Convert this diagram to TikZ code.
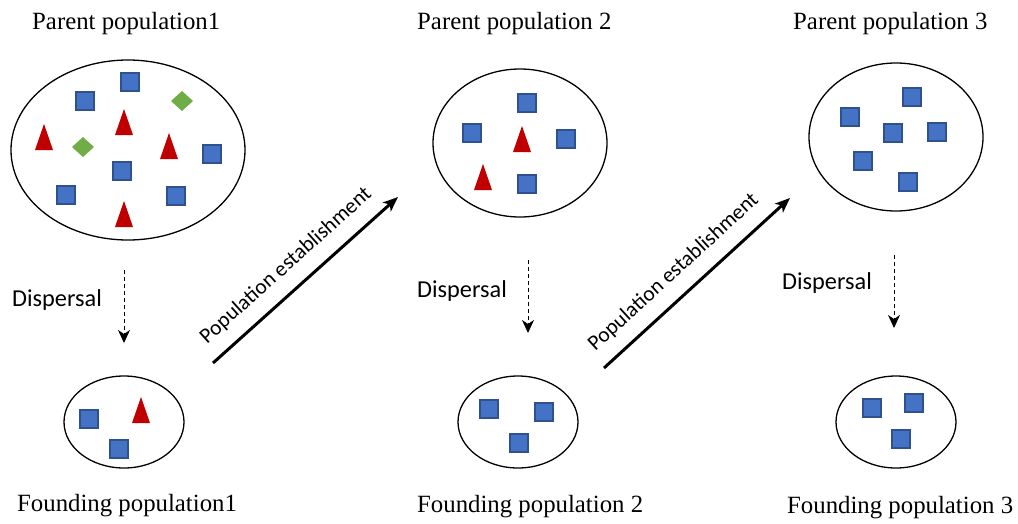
\documentclass[tikz,border=0pt]{standalone}
\usepackage{fontspec}
\setmainfont{Liberation Serif}
\newfontfamily\calibri{Carlito}
\usetikzlibrary{shapes.geometric,arrows.meta}
\definecolor{sqblue}{HTML}{4472C4}
\definecolor{sqedge}{HTML}{2F528F}
\definecolor{trired}{HTML}{C00000}
\definecolor{dgreen}{HTML}{70AD47}
\begin{document}
\begin{tikzpicture}[x=1pt,y=-1pt,
  pop/.style={ellipse, draw=black, line width=1.3pt, inner sep=0pt},
  title/.style={anchor=base west, inner sep=0pt, font=\fontsize{24.8}{30}\selectfont},
  disp/.style={anchor=base west, inner sep=0pt, font=\calibri\fontsize{24.3}{29}\selectfont},
  disparrow/.style={dash pattern=on 4pt off 3pt, line width=1pt, -{Stealth[length=13pt,width=12pt,inset=4pt]}},
  estarrow/.style={line width=3pt, -{Stealth[length=15pt,width=12pt,inset=4pt]}},
  estlabel/.style={sloped, anchor=south, inner xsep=0pt, inner ysep=13pt, font=\calibri\fontsize{21.5}{26}\selectfont},
  sq/.pic={\filldraw[fill=sqblue, draw=sqedge, line width=2.2pt] (-9,-9) rectangle (9,9);},
  tri/.pic={\fill[trired] (-9,13) -- (9,13) -- (0,-13) -- cycle;},
  dia/.pic={\fill[dgreen] (-11,0) -- (0,-10) -- (11,0) -- (0,10) -- cycle;}
]
\useasboundingbox (0,0) rectangle (1018,523);

% titles
\node[title] (t1) at (32,29) {Parent population1};
\node[title] (t2) at (417,29) {Parent population 2};
\node[title] (t3) at (793,29) {Parent population 3};
\node[title] (f1t) at (17,511) {Founding population1};
\node[title] (f2t) at (417,512) {Founding population 2};
\node[title] (f3t) at (787,513) {Founding population 3};

% populations
\node[pop, minimum width=234pt, minimum height=180pt] (P1) at (128,150) {};
\node[pop, minimum width=174pt, minimum height=148pt] (P2) at (520,143) {};
\node[pop, minimum width=174pt, minimum height=148pt] (P3) at (896,137) {};
\node[pop, minimum width=120pt, minimum height=92pt] (F1) at (124,422) {};
\node[pop, minimum width=120pt, minimum height=92pt] (F2) at (518,422) {};
\node[pop, minimum width=120pt, minimum height=92pt] (F3) at (896,422) {};

% members of parent population 1
\pic at (130,82) {sq};
\pic at (85,101) {sq};
\pic at (182,101) {dia};
\pic at (124,122) {tri};
\pic at (44,137) {tri};
\pic at (83,147) {dia};
\pic at (169,146) {tri};
\pic at (212,154) {sq};
\pic at (122,171) {sq};
\pic at (66,195) {sq};
\pic at (176,196) {sq};
\pic at (124,214) {tri};

% members of parent population 2
\pic at (527,103) {sq};
\pic at (472,133) {sq};
\pic at (522,139) {tri};
\pic at (566,139) {sq};
\pic at (483,177) {tri};
\pic at (527,184) {sq};

% members of parent population 3
\pic at (912,97) {sq};
\pic at (850,117) {sq};
\pic at (893,133) {sq};
\pic at (937,132) {sq};
\pic at (863,161) {sq};
\pic at (908,182) {sq};

% founding populations
\pic at (89,419) {sq};
\pic at (141,410) {tri};
\pic at (119,449) {sq};

\pic at (489,409) {sq};
\pic at (544,412) {sq};
\pic at (519,443) {sq};

\pic at (872,408) {sq};
\pic at (914,403) {sq};
\pic at (901,439) {sq};

% dispersal
\node[disp] (dl1) at (12,306) {Dispersal};
\node[disp] (dl2) at (417,297) {Dispersal};
\node[disp] (dl3) at (782,289) {Dispersal};
\coordinate (d1s) at (124,270); \coordinate (d1e) at (124,343);
\coordinate (d2s) at (528,260); \coordinate (d2e) at (528,333);
\coordinate (d3s) at (894,255); \coordinate (d3e) at (894,328);
\draw[disparrow] (d1s) -- (d1e);
\draw[disparrow] (d2s) -- (d2e);
\draw[disparrow] (d3s) -- (d3e);

% establishment
\coordinate (e1s) at (213,363); \coordinate (e1e) at (398,197);
\coordinate (e2s) at (604,368); \coordinate (e2e) at (790,198);
\draw[estarrow] (e1s) -- node[estlabel, pos=0.48] (el1) {Population establishment} (e1e);
\draw[estarrow] (e2s) -- node[estlabel, pos=0.46] (el2) {Population establishment} (e2e);
\end{tikzpicture}
\end{document}
